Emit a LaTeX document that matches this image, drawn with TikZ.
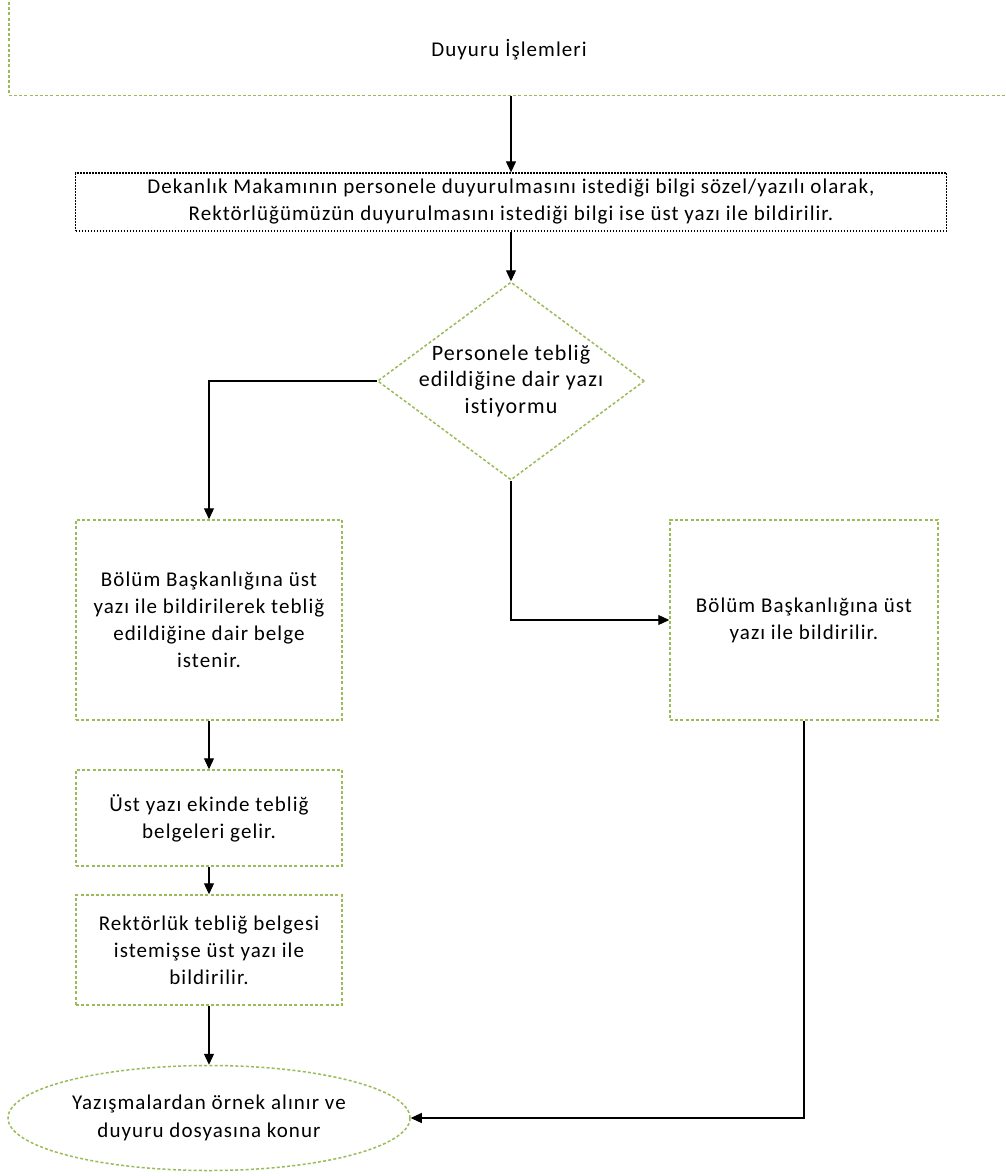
\documentclass[tikz,border=0pt]{standalone}
\usepackage{fontspec}
\setmainfont{Carlito}[LetterSpace=5, Ligatures=NoCommon]
\usetikzlibrary{shapes.geometric,arrows.meta}
\definecolor{ogreen}{HTML}{9BBB59}
\tikzset{
  gline/.style={draw=ogreen, line width=1.5pt, dash pattern=on 3pt off 2.2pt},
  gbox/.style={rectangle, gline, inner sep=0pt, align=center},
  kbox/.style={rectangle, draw=black, line width=1.3pt, dash pattern=on 1.6pt off 1.4pt, inner sep=0pt, align=center},
  gdia/.style={diamond, gline, inner sep=0pt},
  gell/.style={ellipse, gline, inner sep=0pt, align=center},
  txt/.style={align=center, inner sep=0pt},
  bigtxt/.style={txt, font=\fontsize{22}{26.5}\selectfont},
  arr/.style={-{Triangle[length=11pt,width=10pt]}, line width=1.2pt, draw=black},
}
\begin{document}
\begin{tikzpicture}[x=1pt, y=-1pt, font=\fontsize{21}{27}\selectfont]
\useasboundingbox (0,0) rectangle (1005,1176);
\clip (0,0) rectangle (1005,1176);
\fill[white] (0,0) rectangle (1005,1176);

\node[gbox, minimum width=1010, minimum height=126, anchor=south west] (top) at (8,96) {};
\node[txt] (ttl) at (509,50) {Duyuru İşlemleri};

\node[kbox, minimum width=871, minimum height=58] (dek) at (511,202)
  {Dekanlık Makamının personele duyurulmasını istediği bilgi sözel/yazılı olarak,\\
   Rektörlüğümüzün duyurulmasını istediği bilgi ise üst yazı ile bildirilir.};

\node[gdia, minimum width=267, minimum height=198] (dia) at (511,381) {};
\node[bigtxt] (diat) at (dia.center) {Personele tebliğ\\edildiğine dair yazı\\istiyormu};

\node[gbox, minimum width=266, minimum height=200] (b1) at (209,620)
  {Bölüm Başkanlığına üst\\yazı ile bildirilerek tebliğ\\edildiğine dair belge\\istenir.};

\node[gbox, minimum width=268, minimum height=200] (b2) at (804,620)
  {Bölüm Başkanlığına üst\\yazı ile bildirilir.};

\node[gbox, minimum width=266, minimum height=96] (b3) at (209,818)
  {Üst yazı ekinde tebliğ\\belgeleri gelir.};

\node[gbox, minimum width=266, minimum height=110] (b4) at (209,950)
  {Rektörlük tebliğ belgesi\\istemişse üst yazı ile\\bildirilir.};

\node[gell, minimum width=402, minimum height=105, font=\fontsize{21}{28}\selectfont] (ell) at (209,1118)
  {Yazışmalardan örnek alınır ve\\duyuru dosyasına konur};

\draw[arr] (top.south -| dek.north) -- (dek.north);
\draw[arr] (dek.south) -- (dia.north);
\draw[arr] (dia.west) -| (b1.north);
\draw[arr] (dia.south) |- (b2.west);
\draw[arr] (b1.south) -- (b3.north);
\draw[arr] (b3.south) -- (b4.north);
\draw[arr] (b4.south) -- (ell.north);
\draw[arr] (b2.south) |- (ell.east);
\end{tikzpicture}
\end{document}
